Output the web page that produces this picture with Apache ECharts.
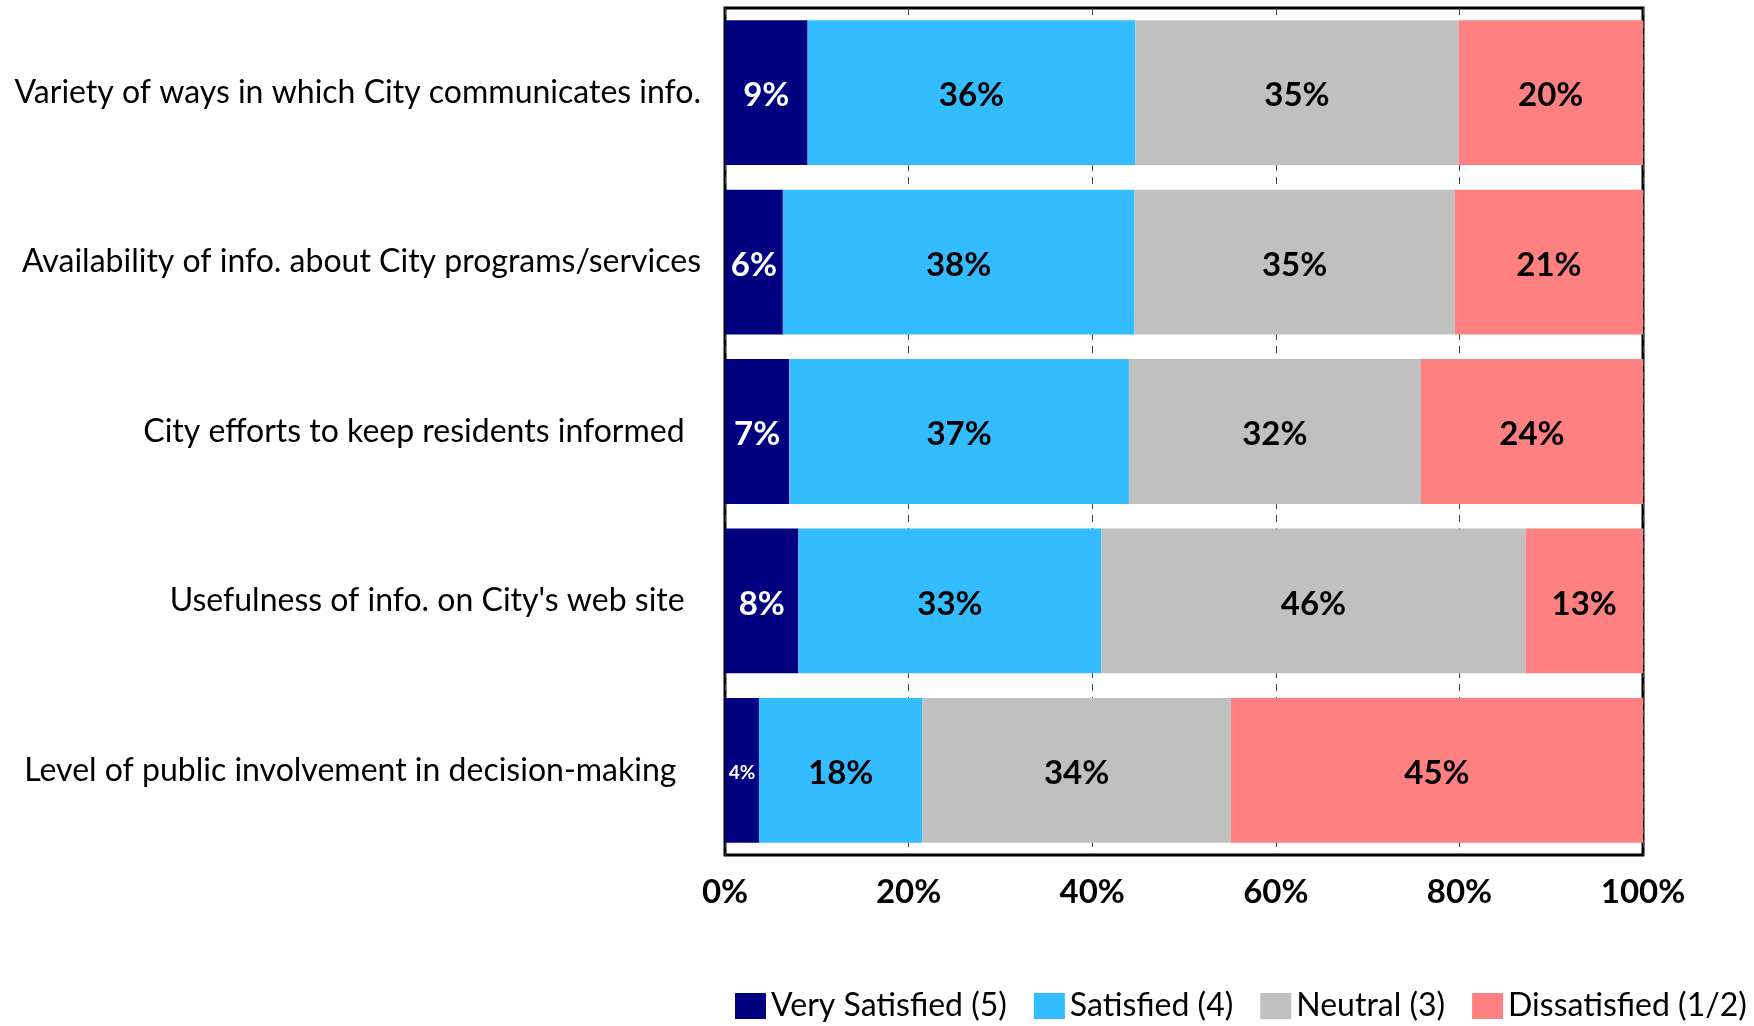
<!DOCTYPE html>
<html>
<head>
<meta charset="utf-8">
<title>Communication satisfaction</title>
<script src="https://cdn.jsdelivr.net/npm/echarts@6/dist/echarts.min.js"></script>
<style>
  html, body { margin: 0; padding: 0; background: #fff; }
  #chart { width: 1754px; height: 1026px; }
</style>
</head>
<body>
<div id="chart"></div>
<script>
// Survey items, top to bottom (trailing spaces keep the original label offsets)
const categories = [
  'Variety of ways in which City communicates info.',
  'Availability of info. about City programs/services',
  'City efforts to keep residents informed  ',
  "Usefulness of info. on City's web site  ",
  'Level of public involvement in decision-making   '
];

// Share of respondents (%) per rating level
const verySatisfied = [9.0, 6.3, 7.0, 8.0, 3.7];
const satisfied     = [35.7, 38.3, 37.0, 33.0, 17.8];
const neutral       = [35.2, 34.9, 31.8, 46.2, 33.6];
const dissatisfied  = [20.1, 20.5, 24.2, 12.8, 44.9];

const seriesNames = ['Very Satisfied (5)', 'Satisfied (4)', 'Neutral (3)', 'Dissatisfied (1/2)'];
const xTicks = [0, 20, 40, 60, 80, 100];

const FONT = 'Lato';
const colors = ['#000080', '#33BCFF', '#C0C0C0', '#FF8080'];
const labelColors = ['#ffffff', '#000000', '#000000', '#000000'];

function makeSeries(name, values, idx) {
  return {
    name: name,
    type: 'bar',
    stack: 'total',
    barCategoryGap: '14.5%',
    itemStyle: { color: colors[idx] },
    label: {
      show: true,
      position: 'inside',
      offset: [0, 3],
      color: labelColors[idx],
      fontFamily: FONT,
      fontWeight: 'bold',
      fontSize: 33,
      formatter: p => Math.round(p.value) + '%'
    },
    // narrow segments get a smaller label
    data: values.map(v => v < 5 ? { value: v, label: { fontSize: 19 } } : v)
  };
}

const chart = echarts.init(document.getElementById('chart'));
chart.setOption({
  animation: false,
  backgroundColor: '#ffffff',
  textStyle: { fontFamily: FONT },
  grid: {
    left: 725, right: 111, top: 8, bottom: 171,
    show: true, borderColor: '#000000', borderWidth: 3,
    backgroundColor: 'transparent'
  },
  legend: {
    data: seriesNames,
    left: 730, top: 985,
    itemWidth: 31, itemHeight: 26, itemGap: 27,
    icon: 'rect',
    textStyle: { fontFamily: FONT, fontSize: 32, color: '#000' }
  },
  xAxis: {
    type: 'value',
    min: xTicks[0], max: xTicks[xTicks.length - 1], interval: 20,
    axisLine: { show: false },
    axisTick: { show: false },
    axisLabel: {
      formatter: '{value}%',
      fontFamily: FONT, fontWeight: 'bold', fontSize: 33, color: '#000', margin: 21
    },
    splitLine: { show: true, lineStyle: { color: '#404040', type: [7, 6], width: 1 } }
  },
  yAxis: {
    type: 'category',
    data: categories,
    inverse: true,
    axisLine: { show: false },
    axisTick: { show: false },
    axisLabel: {
      fontFamily: FONT, fontSize: 32, color: '#000', margin: 24,
      padding: [7, 0, 0, 0]
    }
  },
  series: [
    makeSeries(seriesNames[0], verySatisfied, 0),
    makeSeries(seriesNames[1], satisfied, 1),
    makeSeries(seriesNames[2], neutral, 2),
    makeSeries(seriesNames[3], dissatisfied, 3)
  ]
});
</script>
</body>
</html>
